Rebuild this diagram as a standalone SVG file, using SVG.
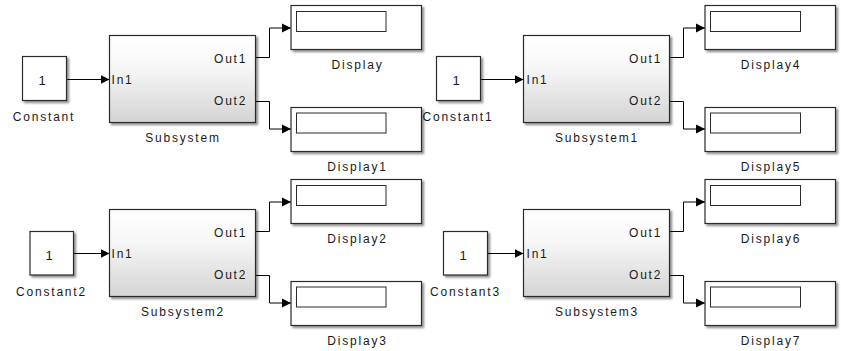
<svg xmlns="http://www.w3.org/2000/svg" width="841" height="351" viewBox="0 0 841 351">
  <defs>
    <linearGradient id="subFill" x1="0" y1="0" x2="0" y2="1">
      <stop offset="0" stop-color="#ffffff"/>
      <stop offset="0.35" stop-color="#f8f8f8"/>
      <stop offset="1" stop-color="#d4d4d4"/>
    </linearGradient>
    <filter id="shadow" x="-10%" y="-10%" width="130%" height="130%">
      <feDropShadow dx="2" dy="2" stdDeviation="0.9" flood-color="#000000" flood-opacity="0.45"/>
    </filter>
    <marker id="arrow" markerUnits="userSpaceOnUse" markerWidth="10" markerHeight="10" refX="9" refY="5" orient="auto">
      <path d="M0,0.5 L9,5 L0,9.5 Z" fill="#000"/>
    </marker>
  </defs>
  <style>
    .blk { fill: #ffffff; stroke: #2b2b2b; stroke-width: 1.2; filter: url(#shadow); }
    .sub { fill: url(#subFill); stroke: #2b2b2b; stroke-width: 1.2; filter: url(#shadow); }
    .win { fill: #ffffff; stroke: #2b2b2b; stroke-width: 1; }
    .wire { fill: none; stroke: #000; stroke-width: 1; marker-end: url(#arrow); }
    text { font-family: "Liberation Sans", Arial, sans-serif; font-size: 12px; fill: #1a1a1a; letter-spacing: 1.8px; }
    .mid { text-anchor: middle; }
    .val { font-size: 13px; letter-spacing: 0; }
  </style>

  <rect width="841" height="351" fill="#ffffff"/>

  <!-- signal lines -->
  <g id="connectors">
    <path class="wire" d="M66.5,79.5 H109.5"/>
    <path class="wire" d="M256,57.5 H269.5 V28 H291"/>
    <path class="wire" d="M256,101.5 H269.5 V129 H291"/>

    <path class="wire" d="M480.5,79.5 H523.5"/>
    <path class="wire" d="M670,57.5 H683.5 V28 H705"/>
    <path class="wire" d="M670,101.5 H683.5 V129 H705"/>

    <path class="wire" d="M73.5,253.5 H109.5"/>
    <path class="wire" d="M256,231.5 H269.5 V202 H291"/>
    <path class="wire" d="M256,275.5 H269.5 V303 H291"/>

    <path class="wire" d="M487.5,253.5 H523.5"/>
    <path class="wire" d="M670,231.5 H683.5 V202 H705"/>
    <path class="wire" d="M670,275.5 H683.5 V303 H705"/>
  </g>

  <!-- top-left -->
  <g id="constant">
    <rect class="blk" x="22.5" y="56.5" width="44" height="44"/>
    <text class="val mid" x="42" y="85">1</text>
    <text class="mid" x="44" y="121">Constant</text>
  </g>
  <g id="subsystem">
    <rect class="sub" x="109.5" y="35.5" width="146" height="87"/>
    <text x="111.5" y="84">In1</text>
    <text x="214" y="62.5">Out1</text>
    <text x="214" y="105">Out2</text>
    <text class="mid" x="183" y="141.5">Subsystem</text>
  </g>
  <g id="display">
    <rect class="blk" x="291" y="5.5" width="130.5" height="44"/>
    <rect class="win" x="296.5" y="11.5" width="89.5" height="20"/>
    <text class="mid" x="357.5" y="68.5">Display</text>
  </g>
  <g id="display1">
    <rect class="blk" x="291" y="107.5" width="130.5" height="44"/>
    <rect class="win" x="296.5" y="113" width="89.5" height="20"/>
    <text class="mid" x="357.5" y="170.5">Display1</text>
  </g>

  <!-- top-right -->
  <g id="constant1">
    <rect class="blk" x="436.5" y="56.5" width="44" height="44"/>
    <text class="val mid" x="456" y="85">1</text>
    <text class="mid" x="458" y="121">Constant1</text>
  </g>
  <g id="subsystem1">
    <rect class="sub" x="523.5" y="35.5" width="146" height="87"/>
    <text x="526.5" y="84">In1</text>
    <text x="629" y="62.5">Out1</text>
    <text x="629" y="105">Out2</text>
    <text class="mid" x="597" y="141.5">Subsystem1</text>
  </g>
  <g id="display4">
    <rect class="blk" x="705" y="5.5" width="130.5" height="44"/>
    <rect class="win" x="710.5" y="11.5" width="90" height="20"/>
    <text class="mid" x="771" y="68.5">Display4</text>
  </g>
  <g id="display5">
    <rect class="blk" x="705" y="107.5" width="130.5" height="44"/>
    <rect class="win" x="710.5" y="113" width="90" height="20"/>
    <text class="mid" x="771" y="170.5">Display5</text>
  </g>

  <!-- bottom-left -->
  <g id="constant2">
    <rect class="blk" x="30" y="231.5" width="43.5" height="43.5"/>
    <text class="val mid" x="49" y="260">1</text>
    <text class="mid" x="51.5" y="296">Constant2</text>
  </g>
  <g id="subsystem2">
    <rect class="sub" x="109.5" y="209.5" width="146" height="87"/>
    <text x="111.5" y="258">In1</text>
    <text x="214" y="236.5">Out1</text>
    <text x="214" y="279">Out2</text>
    <text class="mid" x="183" y="315.5">Subsystem2</text>
  </g>
  <g id="display2">
    <rect class="blk" x="291" y="179.5" width="130.5" height="44"/>
    <rect class="win" x="296.5" y="185.5" width="89.5" height="20"/>
    <text class="mid" x="357.5" y="242.5">Display2</text>
  </g>
  <g id="display3">
    <rect class="blk" x="291" y="281.5" width="130.5" height="44"/>
    <rect class="win" x="296.5" y="287" width="89.5" height="20"/>
    <text class="mid" x="357.5" y="344.5">Display3</text>
  </g>

  <!-- bottom-right -->
  <g id="constant3">
    <rect class="blk" x="443.5" y="231.5" width="44" height="43.5"/>
    <text class="val mid" x="463" y="260">1</text>
    <text class="mid" x="465.5" y="296">Constant3</text>
  </g>
  <g id="subsystem3">
    <rect class="sub" x="523.5" y="209.5" width="146" height="87"/>
    <text x="526.5" y="258">In1</text>
    <text x="629" y="236.5">Out1</text>
    <text x="629" y="279">Out2</text>
    <text class="mid" x="597" y="315.5">Subsystem3</text>
  </g>
  <g id="display6">
    <rect class="blk" x="705" y="179.5" width="130.5" height="44"/>
    <rect class="win" x="710.5" y="185.5" width="90" height="20"/>
    <text class="mid" x="771" y="242.5">Display6</text>
  </g>
  <g id="display7">
    <rect class="blk" x="705" y="281.5" width="130.5" height="44"/>
    <rect class="win" x="710.5" y="287" width="90" height="20"/>
    <text class="mid" x="771" y="344.5">Display7</text>
  </g>
</svg>
